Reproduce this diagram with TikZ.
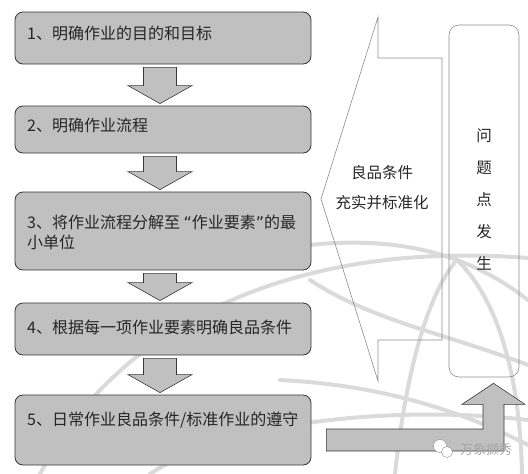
\documentclass[tikz,border=0pt]{standalone}
\usepackage{fontspec}
\setmainfont{Noto Sans CJK SC}
\newfontfamily\quotefont{DejaVu Sans}
\usepackage{tikz}
\usetikzlibrary{calc, positioning}
\definecolor{boxgray}{RGB}{192, 192, 192}
\definecolor{edgegray}{RGB}{55, 55, 55}
\definecolor{outlinegray}{RGB}{140, 140, 140}
\definecolor{globegray}{RGB}{218, 218, 218}

\tikzset{
  stepbox/.style={draw=edgegray, fill=boxgray, rounded corners=8pt, line width=0.8pt,
    minimum width=296pt, inner sep=0pt},
  steptext/.style={anchor=west, inner sep=0pt, align=left, text=black!85,
    font=\fontsize{16}{20}\selectfont},
  blockarrow/.style={draw=edgegray, fill=boxgray, line width=0.6pt},
  hollowshape/.style={draw=outlinegray, line width=0.6pt},
  sidetext/.style={inner sep=0pt, text=black!85, font=\fontsize{15.5}{20}\selectfont},
  globe/.style={draw=globegray, line width=4pt, line cap=round}
}

% block arrow pointing down from one step box to the next
\newcommand{\stepdown}[2]{%
  \path[blockarrow] let \p1=(#1.south), \p2=(#2.north) in
    (\x1-19.5pt,\y1-3pt) -- (\x1+13.5pt,\y1-3pt) -- (\x1+13.5pt,\y2+20pt)
    -- (\x1+29pt,\y2+20pt) -- (\x1-3pt,\y2+2pt) -- (\x1-35pt,\y2+20pt)
    -- (\x1-19.5pt,\y2+20pt) -- cycle;
}

\begin{document}
\begin{tikzpicture}[x=1pt, y=-1pt]

\useasboundingbox (0,0) rectangle (528,474);

% Globe in the background
\draw[globe] (40,474) .. controls (120,320) and (300,240) .. (528,258);
\draw[globe] (300,246) .. controls (400,234) and (470,255) .. (528,300);
\draw[globe] (280,380) .. controls (380,385) and (460,410) .. (528,445);
\draw[globe] (310,280) .. controls (370,320) and (450,335) .. (528,365);
\draw[globe] (455,258) .. controls (500,300) and (520,380) .. (522,474);
\draw[globe] (395,474) .. controls (405,380) and (425,300) .. (455,262);
\draw[globe] (150,474) .. controls (230,420) and (400,405) .. (528,420);

% Step boxes
\node[stepbox, minimum height=52pt] (b1) at (163,38) {};
\node[stepbox, minimum height=47pt] (b2) at (163,129.5) {};
\node[stepbox, minimum height=78pt] (b3) at (163,231) {};
\node[stepbox, minimum height=52pt] (b4) at (163,329) {};
\node[stepbox, minimum height=70pt] (b5) at (163,430) {};

\node[steptext] (t1) at (27,33) {1、明确作业的目的和目标};
\node[steptext] (t2) at (27,125) {2、明确作业流程};
\node[steptext] (t3) at (27,232)
  {3、将作业流程分解至 {\quotefont“}作业要素{\quotefont”}的最\\小单位};
\node[steptext] (t4) at (27,327) {4、根据每一项作业要素明确良品条件};
\node[steptext] (t5) at (27,420) {5、日常作业良品条件/标准作业的遵守};

% Arrows between steps
\stepdown{b1}{b2}
\stepdown{b2}{b3}
\stepdown{b3}{b4}
\stepdown{b4}{b5}

% Feedback arrow
\draw[hollowshape] (321,199) -- (378,17) -- (378,58) -- (442,58) -- (442,340)
  -- (378,340) -- (378,381) -- cycle;
\node[sidetext] (f1) at (382,173) {良品条件};
\node[sidetext] (f2) at (382,203) {充实并标准化};

% Problem box
\node[hollowshape, rounded corners=10pt, minimum width=70pt, minimum height=352pt]
  (q) at (484,201) {};
\node[sidetext, align=center, font=\fontsize{15.5}{32}\selectfont] (qt) at (484,199)
  {问\\题\\点\\发\\生};

% Arrow from step 5 up to the problem box
\path[blockarrow] let \p1=(b5.east), \p2=(q.south) in
  (\x1+15pt,\y1+1pt) -- (\x2-1pt,\y1+1pt) -- (\x2-1pt,\y2-27pt) -- (\x2-22pt,\y2-27pt)
  -- (\x2+9.5pt,\y2-6pt) -- (\x2+41pt,\y2-27pt) -- (\x2+20pt,\y2-27pt)
  -- (\x2+20pt,\y1-21pt) -- (\x1+15pt,\y1-21pt) -- cycle;

% Watermark
\draw[outlinegray, fill=white] (440,446) circle (6.5);
\draw[outlinegray, fill=white] (447,452) circle (5.5);
\node[inner sep=0pt, text=gray!70, font=\fontsize{13}{13}\selectfont] (wm) at (486,450) {万象撷秀};

\end{tikzpicture}
\end{document}
